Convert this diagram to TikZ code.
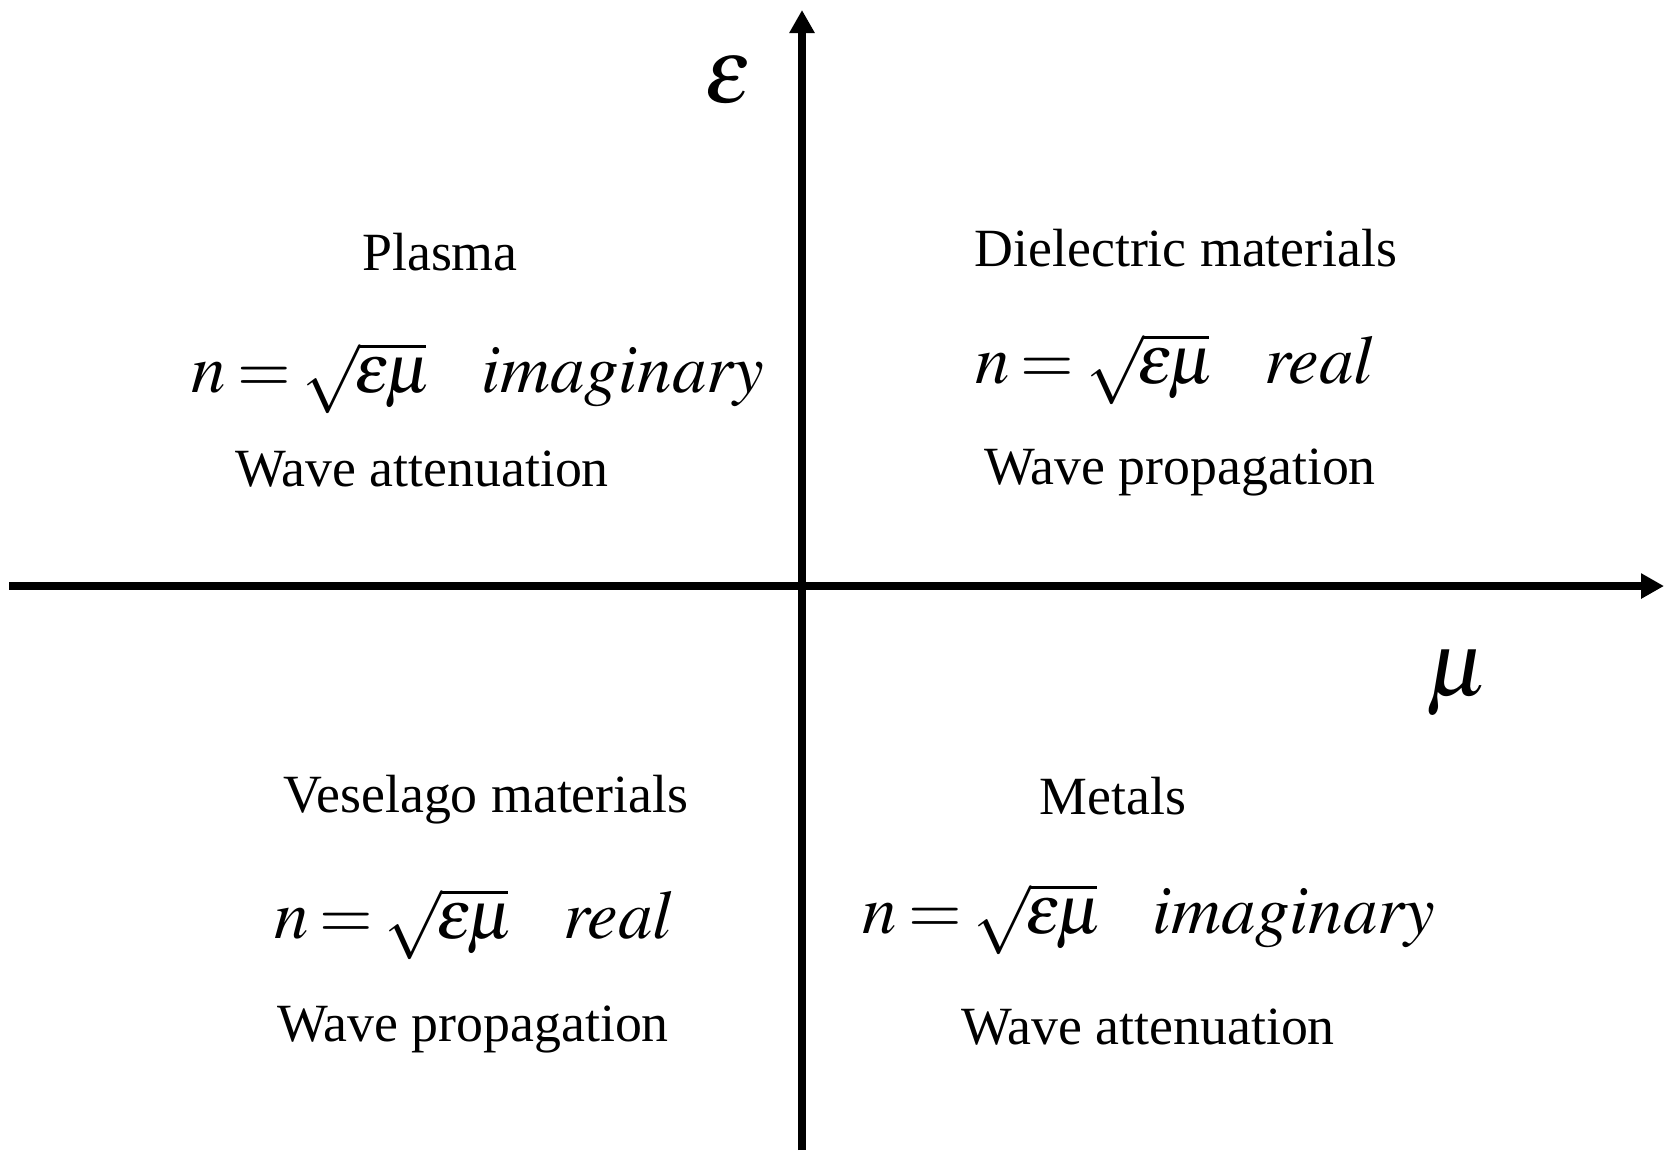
\documentclass[tikz,border=0pt]{standalone}
\usepackage{mathptmx}
\usepackage[no-math]{fontspec}
\setmainfont{Liberation Serif}
\usepackage{tikz}
\usetikzlibrary{arrows.meta}

\newcommand{\nrel}[1]{$\thickmuskip=3mu n=\sqrt{\mkern-1.5mu\varepsilon\mkern-1.5mu\mu\mkern-1.5mu}\hspace{0.8em}\mathit{#1}$}

\tikzset{
  axis/.style={line width=2.3pt, -{Triangle[length=0.23cm,width=0.24cm]}},
  lbl/.style={font=\fontsize{15.3}{18}\selectfont, inner sep=0pt},
  eqn/.style={font=\fontsize{19.6}{24}\selectfont, inner sep=0pt},
  axlbl/.style={font=\fontsize{26}{30}\selectfont, inner sep=0pt}
}

\begin{document}
\begin{tikzpicture}[x=0.01cm,y=-0.01cm]
\useasboundingbox (0,0) rectangle (1664,1150);
% axes
\coordinate (bot) at (802,1150);
\coordinate (top) at (802,10);
\coordinate (left) at (9,586);
\coordinate (right) at (1664,586);
\draw[axis] (bot) -- (top);
\draw[axis] (left) -- (right);
\node[axlbl] (eps) at (728,80) {$\varepsilon$};
\node[axlbl] (mu) at (1457,683) {$\mu$};

% upper left
\node[lbl] (plasma) at (440,252) {Plasma};
\node[eqn] (plasmaeq) at (478,378) {\nrel{imaginary}};
\node[lbl] (plasmawave) at (422,469) {Wave attenuation};

% upper right
\node[lbl] (diel) at (1186,248) {Dielectric materials};
\node[eqn] (dieleq) at (1174,369) {\nrel{real}};
\node[lbl] (dielwave) at (1180,472) {Wave propagation};

% lower left
\node[lbl] (vese) at (486,800) {Veselago materials};
\node[eqn] (veseeq) at (473,924) {\nrel{real}};
\node[lbl] (vesewave) at (473,1029) {Wave propagation};

% lower right
\node[lbl] (metal) at (1113,796) {Metals};
\node[eqn] (metaleq) at (1149,919) {\nrel{imaginary}};
\node[lbl] (metalwave) at (1148,1027) {Wave attenuation};
\end{tikzpicture}
\end{document}
